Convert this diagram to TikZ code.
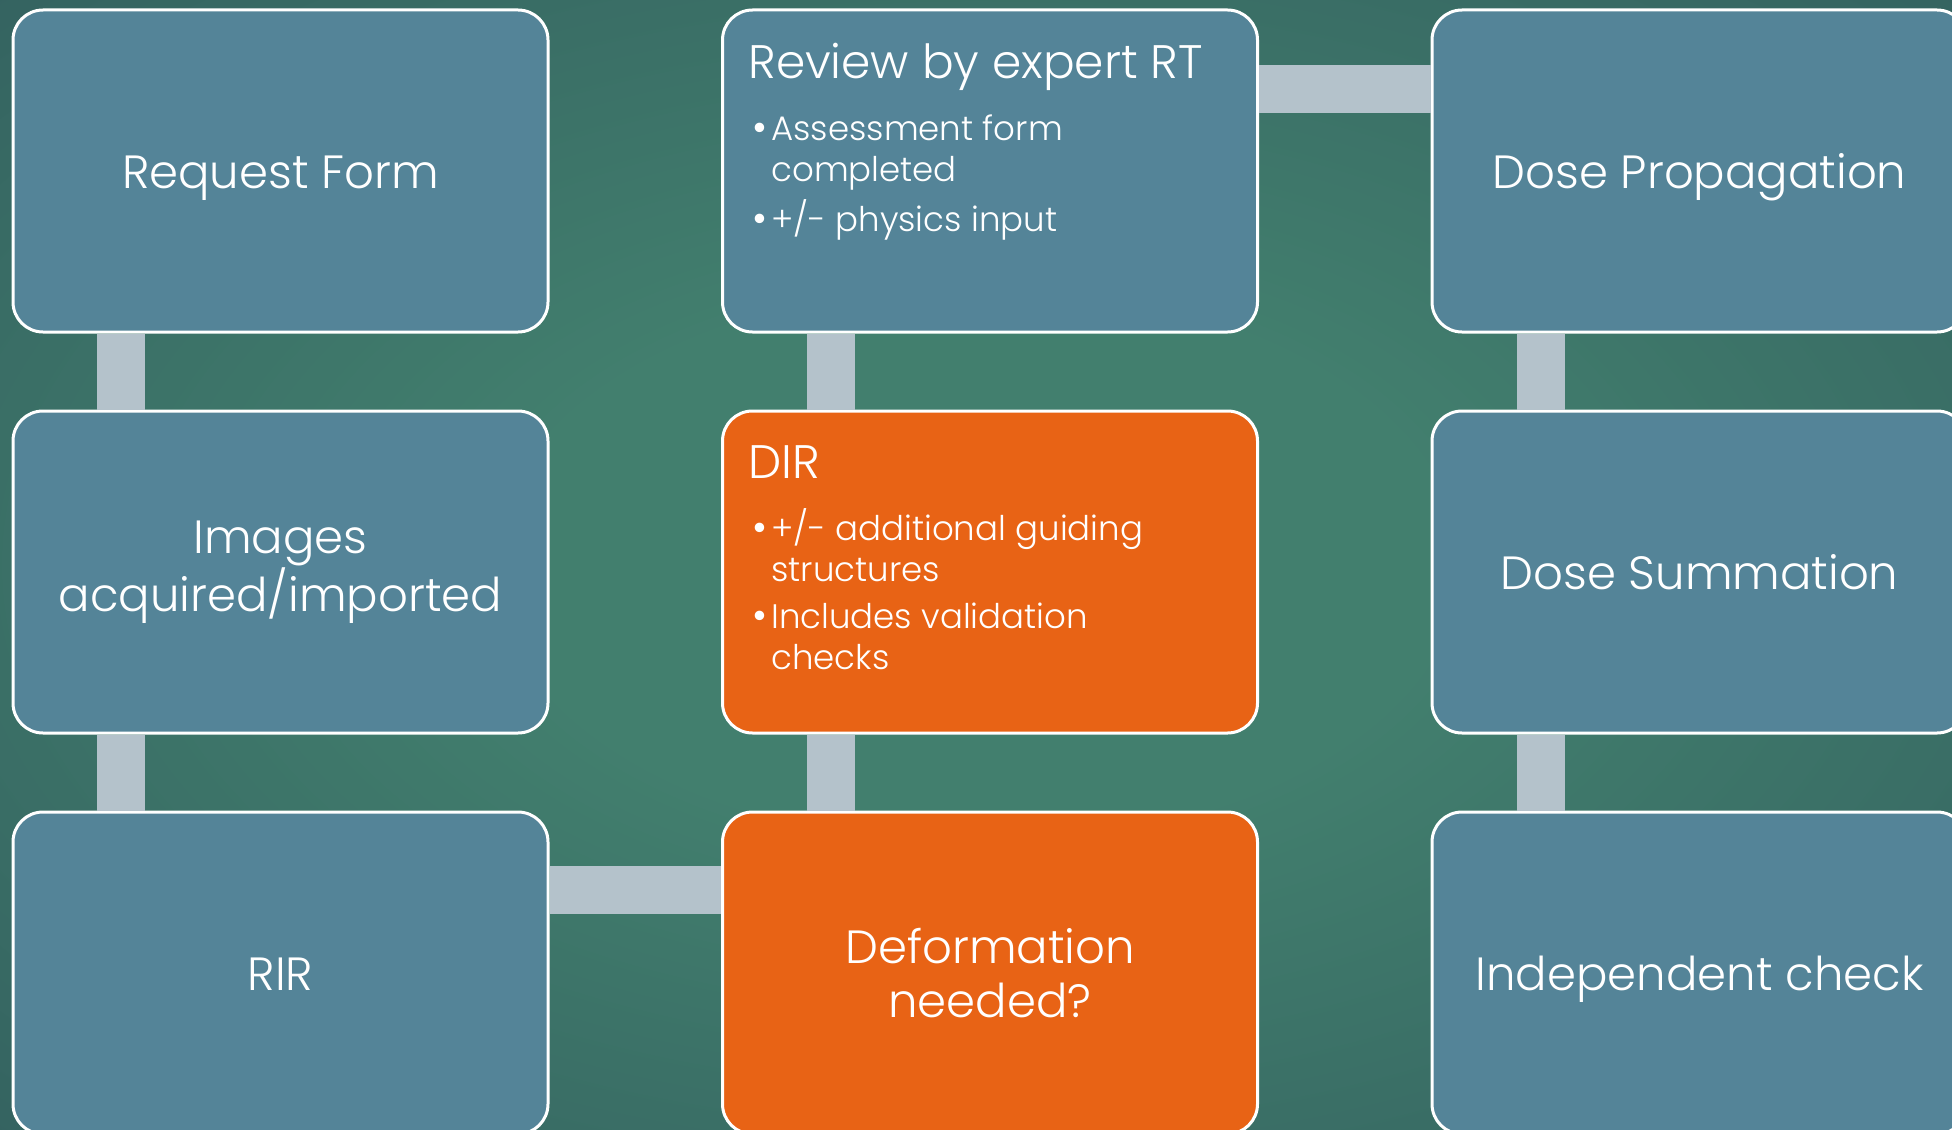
\documentclass[tikz,border=0pt]{standalone}
\usepackage{fontspec}
\setmainfont{Poppins}[UprightFont=* Light]
\usetikzlibrary{calc}
\definecolor{bgin}{RGB}{66,127,110}
\definecolor{bgout}{RGB}{44,82,88}
\definecolor{boxblue}{RGB}{84,132,152}
\definecolor{boxorange}{RGB}{232,99,21}
\definecolor{linkgrey}{RGB}{180,194,203}
\pgfdeclareradialshading{bgglow}{\pgfpoint{0bp}{0bp}}{color(0bp)=(bgin); color(12bp)=(bgin); color(50bp)=(bgout)}
\newcommand{\bigtxt}{\fontsize{23.3}{27}\selectfont}
\newcommand{\headtxt}{\fontsize{23.5}{26}\selectfont}
\newcommand{\listtxt}{\fontsize{17}{20.5}\selectfont}
\newcommand{\bul}{\makebox[9.5pt][l]{\raisebox{-0.6pt}{\scalebox{1.2}{\textbullet}}}}

\begin{document}
\begin{tikzpicture}[x=0.5pt,y=0.5pt,yscale=-1,
	box/.style={draw=white,line width=1.5pt,fill=boxblue,rounded corners=15pt,minimum width=267.5pt,minimum height=161pt,inner sep=0pt,text=white,align=center,font=\bigtxt},
	hibox/.style={box,fill=boxorange},
	oneline/.style={text height=20pt,text depth=3pt},
	head/.style={anchor=base west,inner sep=0pt,text=white,font=\headtxt},
	bullets/.style={anchor=base west,inner sep=0pt,text=white,font=\listtxt},
	link/.style={draw=linkgrey,line width=24pt}]
			\shade[shading=bgglow] (0,0) rectangle (1952,1129);
			\useasboundingbox (0,0) rectangle (1952,1129);
			
			\node (req) [box,oneline] at (280.5,171) {Request Form};
			\node (img) [box] at (280.5,572) {Images\\acquired/imported};
			\node (rir) [box,oneline] at (280.5,973) {RIR};
			\node (rev) [box] at (990,171) {};
			\node (dir) [hibox] at (990,572) {};
			\node (dfm) [hibox] at (990,973) {Deformation\\needed?};
			\node (dprop) [box,oneline] at (1699.5,171) {Dose Propagation};
			\node (dsum) [box,oneline] at (1699.5,572) {Dose Summation};
			\node (chk) [box,oneline] at (1699.5,973) {Independent check};
			
			\node (revhead) [head] at ($(rev.north west)+(27,70)$) {Review by expert RT};
			\node (revlist) [bullets] at ($(rev.north west)+(31,132)$) {\begin{tabular}[t]{@{}l@{}l@{}}
				\bul & Assessment form\\
				& completed\\[3pt]
				\bul & +/- physics input
			\end{tabular}};
			\node (dirhead) [head] at ($(dir.north west)+(27,69)$) {DIR};
			\node (dirlist) [bullets] at ($(dir.north west)+(31,131)$) {\begin{tabular}[t]{@{}l@{}l@{}}
				\bul & +/- additional guiding\\
				& structures\\[3pt]
				\bul & Includes validation\\
				& checks
			\end{tabular}};
			
			\coordinate (lane1) at (121,0);
			\coordinate (lane2) at (831,0);
			\coordinate (lane3) at (1541,0);
			\coordinate (rowtop) at (0,89.5);
			\coordinate (rowbot) at (0,890);
			\draw[link] (req.south -| lane1) -- (img.north -| lane1);
			\draw[link] (img.south -| lane1) -- (rir.north -| lane1);
			\draw[link] (rir.east |- rowbot) -- (dfm.west |- rowbot);
			\draw[link] (dfm.north -| lane2) -- (dir.south -| lane2);
			\draw[link] (dir.north -| lane2) -- (rev.south -| lane2);
			\draw[link] (rev.east |- rowtop) -- (dprop.west |- rowtop);
			\draw[link] (dprop.south -| lane3) -- (dsum.north -| lane3);
			\draw[link] (dsum.south -| lane3) -- (chk.north -| lane3);
\end{tikzpicture}
\end{document}
